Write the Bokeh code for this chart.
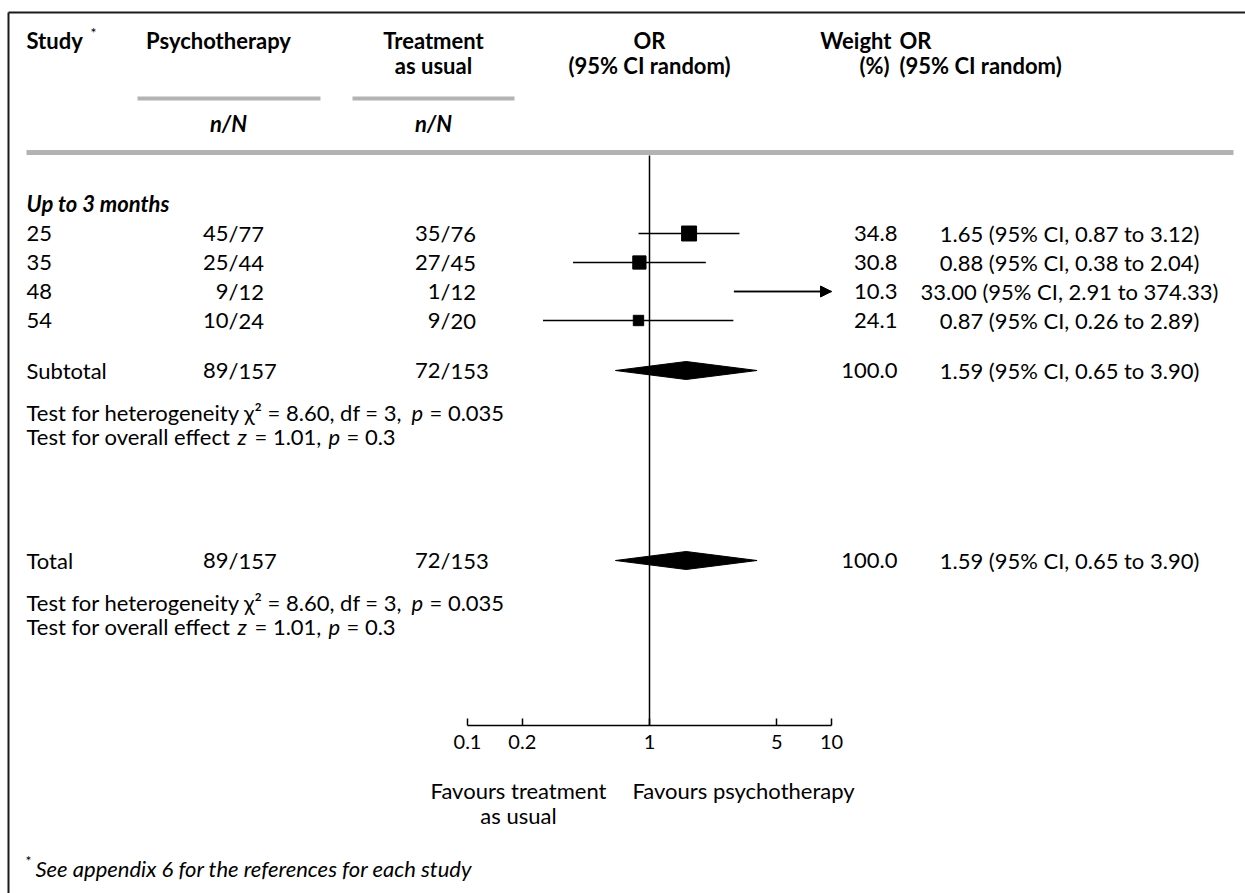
from bokeh.plotting import figure
from bokeh.models import (Range1d, LogScale, LogAxis, FixedTicker, CustomJSTickFormatter,
                          ColumnDataSource, Arrow, NormalHead)
from bokeh.embed import file_html
from bokeh.resources import INLINE
from bokeh.core.properties import value

# ---- meta-analysis data -------------------------------------------------
studies = ["25", "35", "48", "54"]
psy_events = ["45/77", "25/44", "9/12", "10/24"]
tau_events = ["35/76", "27/45", "1/12", "9/20"]
odds_ratio = [1.65, 0.88, 33.00, 0.87]
ci_low = [0.87, 0.38, 2.91, 0.26]
ci_high = [3.12, 2.04, 374.33, 2.89]
weight_pct = [34.8, 30.8, 10.3, 24.1]

pooled_labels = ["Subtotal", "Total"]
pooled_psy = ["89/157", "89/157"]
pooled_tau = ["72/153", "72/153"]
pooled_or = [1.59, 1.59]
pooled_low = [0.65, 0.65]
pooled_high = [3.90, 3.90]
pooled_weight = [100.0, 100.0]

het_chi2, het_df, het_p = 8.60, 3, 0.035
overall_z, overall_p = 1.01, 0.3

axis_ticks = [0.1, 0.2, 1, 5, 10]

# ---- layout -------------------------------------------------------------
W, H = 1245, 893
FONT = value("Lato")
FS = "22px"          # body text
FSB = "22px"         # bold headings
X_NULL, PX_DECADE = 649, 182          # screen x of OR = 1 and pixels per decade
AXIS_Y = 725
ROW_Y = [233, 262, 291, 320]
POOLED_Y = [370, 560]
STATS_Y = [(412, 436), (602, 626)]
COL_STUDY, COL_PSY, COL_TAU = 26, 228, 440
COL_W, COL_OR = 897, 1069
AXIS_LO, AXIS_HI = axis_ticks[0], axis_ticks[-1]

p = figure(width=W, height=H, x_range=Range1d(0, W), y_range=Range1d(H, 0),
           min_border=0, toolbar_location=None, output_backend="svg",
           x_axis_type=None, y_axis_type=None)
p.grid.visible = False
p.outline_line_color = None
p.background_fill_color = "white"
p.border_fill_color = "white"

p.extra_x_ranges = {"or": Range1d(10 ** (-X_NULL / PX_DECADE), 10 ** ((W - X_NULL) / PX_DECADE))}
p.extra_x_scales = {"or": LogScale()}


def txt(x, y, t, align="left", style="normal", size=FS, color="black"):
    p.text(x=[x], y=[y], text=[t], text_align=align, text_baseline="middle",
           text_font=FONT, text_font_size=size, text_font_style=style, text_color=color)


# frame lines
p.segment(x0=[8, 8], y0=[12, 12], x1=[W, 8], y1=[12, H], line_color="#1a1a1a", line_width=2)

# header
txt(COL_STUDY, 40, "Study", style="bold", size=FSB)
txt(COL_STUDY + 64, 32, "*", size="14px")
txt(COL_PSY - 10, 40, "Psychotherapy", align="center", style="bold", size=FSB)
txt(COL_TAU - 7, 40, "Treatment", align="center", style="bold", size=FSB)
txt(COL_TAU - 7, 65, "as usual", align="center", style="bold", size=FSB)
txt(X_NULL, 40, "OR", align="center", style="bold", size=FSB)
txt(X_NULL, 65, "(95% CI random)", align="center", style="bold", size=FSB)
txt(COL_W - 6, 40, "Weight", align="right", style="bold", size=FSB)
txt(COL_W - 23, 65, "(%)", align="center", style="bold", size=FSB)
txt(COL_W + 2, 40, "OR", style="bold", size=FSB)
txt(COL_W + 2, 65, "(95% CI random)", style="bold", size=FSB)
p.segment(x0=[137, 352], y0=[98, 98], x1=[320, 514], y1=[98, 98],
          line_color="#b3b3b3", line_width=4)
txt(COL_PSY, 123, "n/N", align="center", style="bold italic", size=FSB)
txt(COL_TAU - 7, 123, "n/N", align="center", style="bold italic", size=FSB)
p.segment(x0=[26], y0=[152], x1=[1233], y1=[152], line_color="#b3b3b3", line_width=5)

txt(COL_STUDY, 203, "Up to 3 months", style="bold italic", size=FSB)


def split_col(events, x, ys):
    num = [e.split("/")[0] for e in events]
    den = ["/" + e.split("/")[1] for e in events]
    src = ColumnDataSource(dict(x=[x] * len(events), y=ys, num=num, den=den))
    p.text(x="x", y="y", text="num", source=src, text_align="right", text_baseline="middle",
           text_font=FONT, text_font_size=FS)
    p.text(x="x", y="y", text="den", source=src, text_align="left", text_baseline="middle",
           text_font=FONT, text_font_size=FS)


# study rows
rows = ColumnDataSource(dict(
    y=ROW_Y, study=studies,
    weight=[f"{w:.1f}" for w in weight_pct],
    ortext=[f"{o:.2f} (95% CI, {l:.2f} to {h:.2f})" for o, l, h in zip(odds_ratio, ci_low, ci_high)],
))
p.text(x=COL_STUDY, y="y", text="study", source=rows, text_baseline="middle",
       text_font=FONT, text_font_size=FS)
split_col(psy_events + pooled_psy, COL_PSY, ROW_Y + POOLED_Y)
split_col(tau_events + pooled_tau, COL_TAU, ROW_Y + POOLED_Y)
p.text(x=COL_W, y="y", text="weight", source=rows, text_align="right", text_baseline="middle",
       text_font=FONT, text_font_size=FS)
p.text(x=COL_OR, y="y", text="ortext", source=rows, text_align="center", text_baseline="middle",
       text_font=FONT, text_font_size=FS)

# pooled rows
pooled = ColumnDataSource(dict(
    y=POOLED_Y, label=pooled_labels,
    weight=[f"{w:.1f}" for w in pooled_weight],
    ortext=[f"{o:.2f} (95% CI, {l:.2f} to {h:.2f})" for o, l, h in zip(pooled_or, pooled_low, pooled_high)],
))
p.text(x=COL_STUDY, y="y", text="label", source=pooled, text_baseline="middle",
       text_font=FONT, text_font_size=FS)
p.text(x=COL_W, y="y", text="weight", source=pooled, text_align="right", text_baseline="middle",
       text_font=FONT, text_font_size=FS)
p.text(x=COL_OR, y="y", text="ortext", source=pooled, text_align="center", text_baseline="middle",
       text_font=FONT, text_font_size=FS)

# heterogeneity / overall effect lines (italic statistic symbols set separately)
for y1, y2 in STATS_Y:
    txt(COL_STUDY, y1, f"Test for heterogeneity \u03c7\u00b2 = {het_chi2:.2f}, df = {het_df},")
    txt(411, y1, "p", style="italic")
    txt(429, y1, f"= {het_p}")
    txt(COL_STUDY, y2, "Test for overall effect")
    txt(237, y2, "z", style="italic")
    txt(254, y2, f"= {overall_z:.2f},")
    txt(328, y2, "p", style="italic")
    txt(346, y2, f"= {overall_p}")

# ---- forest panel (log OR scale) ---------------------------------------
p.segment(x0=[1], y0=[155], x1=[1], y1=[AXIS_Y], x_range_name="or",
          line_color="black", line_width=1.5)

clip_lo = [max(l, AXIS_LO) for l in ci_low]
clip_hi = [min(h, AXIS_HI) for h in ci_high]
ci_src = ColumnDataSource(dict(x0=clip_lo, x1=clip_hi, y=ROW_Y))
p.segment(x0="x0", y0="y", x1="x1", y1="y", source=ci_src, x_range_name="or",
          line_color="black", line_width=1.5)

inside = [i for i, o in enumerate(odds_ratio) if AXIS_LO <= o <= AXIS_HI]
sq_src = ColumnDataSource(dict(x=[odds_ratio[i] for i in inside], y=[ROW_Y[i] for i in inside],
                               size=[weight_pct[i] * 0.43 for i in inside]))
p.scatter(x="x", y="y", size="size", marker="square", source=sq_src, x_range_name="or",
          fill_color="black", line_color="black")

for i, h in enumerate(ci_high):
    if h > AXIS_HI:
        p.add_layout(Arrow(x_start=clip_lo[i], y_start=ROW_Y[i], x_end=AXIS_HI, y_end=ROW_Y[i],
                           x_range_name="or", line_width=1.5, line_color="black",
                           end=NormalHead(size=11, fill_color="black", line_color="black")))

dia = ColumnDataSource(dict(
    xs=[[l, o, h, o] for l, o, h in zip(pooled_low, pooled_or, pooled_high)],
    ys=[[y, y - 9, y, y + 9] for y in POOLED_Y],
))
p.patches(xs="xs", ys="ys", source=dia, x_range_name="or", fill_color="black", line_color="black")

ax = LogAxis(x_range_name="or", fixed_location=AXIS_Y, bounds=(AXIS_LO, AXIS_HI),
             ticker=FixedTicker(ticks=axis_ticks, minor_ticks=[]),
             formatter=CustomJSTickFormatter(code="return tick.toString()"),
             major_tick_in=7, major_tick_out=0, minor_tick_in=0, minor_tick_out=0,
             major_label_standoff=9, axis_line_width=1.5, major_tick_line_width=1.5,
             major_label_text_font="Lato", major_label_text_font_size="20px",
             major_label_text_color="black", axis_line_color="black",
             major_tick_line_color="black")
p.add_layout(ax, "below")

txt(518, 790, "Favours treatment", align="center")
txt(518, 815, "as usual", align="center")
txt(743, 790, "Favours psychotherapy", align="center")

# footnote
txt(COL_STUDY - 1, 860, "*", size="14px")
txt(COL_STUDY + 9, 868, "See appendix 6 for the references for each study", style="italic")

open("out.html", "w").write(file_html(p, INLINE))
